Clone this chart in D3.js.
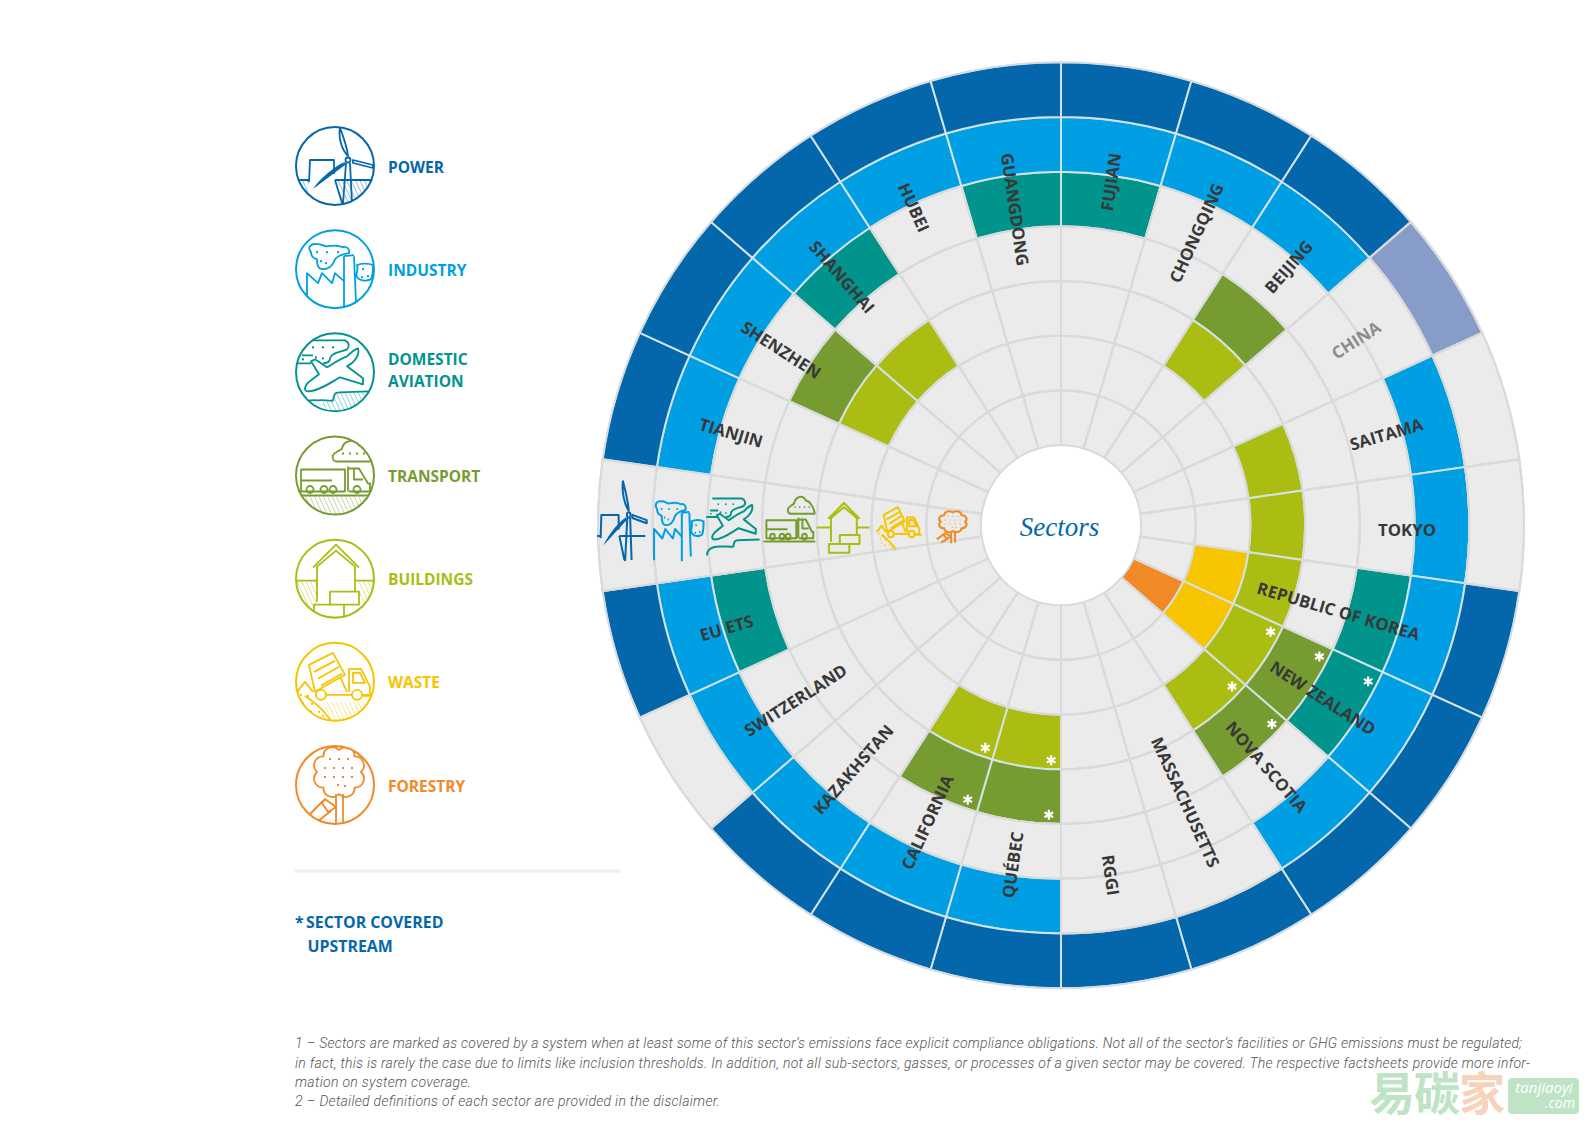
<!DOCTYPE html>
<html><head><meta charset="utf-8">
<script src="https://cdn.jsdelivr.net/npm/d3@7"></script>
<style>html,body{margin:0;background:#fff}svg{display:block}</style>
</head><body><svg id="c" width="1587" height="1123"></svg>
<script>
// ---- data ----
const jurisdictions = ["FUJIAN","CHONGQING","BEIJING","CHINA","SAITAMA","TOKYO","REPUBLIC OF KOREA","NEW ZEALAND","NOVA SCOTIA","MASSACHUSETTS","RGGI","QUÉBEC","CALIFORNIA","KAZAKHSTAN","SWITZERLAND","EU ETS","__icons__","TIANJIN","SHENZHEN","SHANGHAI","HUBEI","GUANGDONG"];
const sectors = ["FORESTRY","WASTE","BUILDINGS","TRANSPORT","DOMESTIC AVIATION","INDUSTRY","POWER"];
const sectorColors = ["#f18a26","#f6c500","#abbd13","#769c31","#00948d","#009fe3","#0567ab"];
const legendLines = [["POWER"],["INDUSTRY"],["DOMESTIC","AVIATION"],["TRANSPORT"],["BUILDINGS"],["WASTE"],["FORESTRY"]];
const powerCovered = ["FUJIAN","CHONGQING","BEIJING","REPUBLIC OF KOREA","NEW ZEALAND","NOVA SCOTIA","MASSACHUSETTS","RGGI","QUÉBEC","CALIFORNIA","KAZAKHSTAN","EU ETS","TIANJIN","SHENZHEN","SHANGHAI","HUBEI","GUANGDONG"];
const powerPlanned = ["CHINA"];
const industryCovered = ["FUJIAN","CHONGQING","BEIJING","SAITAMA","TOKYO","REPUBLIC OF KOREA","NEW ZEALAND","NOVA SCOTIA","QUÉBEC","CALIFORNIA","KAZAKHSTAN","SWITZERLAND","EU ETS","TIANJIN","SHENZHEN","SHANGHAI","HUBEI","GUANGDONG"];
const aviationCovered = ["FUJIAN","REPUBLIC OF KOREA","NEW ZEALAND","EU ETS","SHANGHAI","GUANGDONG"];
const transportCovered = ["BEIJING","NEW ZEALAND","NOVA SCOTIA","QUÉBEC","CALIFORNIA","SHENZHEN"];
const buildingsCovered = ["BEIJING","SAITAMA","TOKYO","REPUBLIC OF KOREA","NEW ZEALAND","NOVA SCOTIA","QUÉBEC","CALIFORNIA","SHENZHEN","SHANGHAI"];
const wasteCovered = ["REPUBLIC OF KOREA","NEW ZEALAND"];
const forestryCovered = ["NEW ZEALAND"];
const upstreamAviation = ["NEW ZEALAND"];
const upstreamTransport = ["NEW ZEALAND","NOVA SCOTIA","QUÉBEC","CALIFORNIA"];
const upstreamBuildings = ["NEW ZEALAND","NOVA SCOTIA","QUÉBEC","CALIFORNIA"];
const footnotes = [
 ["1 – Sectors are marked as covered by a system when at least some of this sector’s emissions face explicit compliance obligations. Not all of the sector’s facilities or GHG emissions must be regulated;",1227],
 ["in fact, this is rarely the case due to limits like inclusion thresholds. In addition, not all sub-sectors, gasses, or processes of a given sector may be covered. The respective factsheets provide more infor-",1235],
 ["mation on system coverage.",176],
 ["2 – Detailed definitions of each sector are provided in the disclaimer.",425]];

const coverage = {POWER:powerCovered,INDUSTRY:industryCovered,"DOMESTIC AVIATION":aviationCovered,TRANSPORT:transportCovered,BUILDINGS:buildingsCovered,WASTE:wasteCovered,FORESTRY:forestryCovered};
const upstream = {"DOMESTIC AVIATION":upstreamAviation,TRANSPORT:upstreamTransport,BUILDINGS:upstreamBuildings};

// ---- icon glyphs (decorative line drawings, circle radius 39) ----
const crownPts=[[26,-13],[19.6,2.6],[4,9],[-11.6,2.6],[-18,-13],[-11.6,-28.6],[4,-35],[19.6,-28.6]];
const crown="M26,-13"+crownPts.slice(1).concat([crownPts[0]]).map(p=>`A9,9 0 0 1 ${p[0]},${p[1]}`).join("")+"Z";
const icons = {
 POWER:{lines:"M-26,16L-25,-6L-1,-6L-1,8M0,14L36,14M11,-3L8,38M15,-3L17,37M0,14L7,37M13,-10C12,-20 8,-30 5,-38C3,-28 7,-16 13,-10ZM18,-6L38,-1L38,2L18,-3Z",
   legendOnly:"M-39,14L-26,14",wedgeOnly:"M-31,14L-26,14",
   solid:"M10,-1L-22,23C-15,12 0,0 10,-4Z",circ:[[13,-6,2.5]],dots:[],
   hatch:"M-39,14H-26L-27,32H-39ZM0,14H36L30,36L8,38Z"},
 INDUSTRY:{lines:"M-24,-17C-28,-22 -24,-26 -18,-25C-14,-26 -11,-22 -7,-23C-2,-24 3,-24 8,-22C12,-23 15,-20 14,-16C8,-15 3,-14 0,-10C-2,-4 -6,0 -12,0C-18,0 -18,-6 -18,-10C-22,-11 -24,-14 -24,-17ZM9,-13L9,38M19,-13L21,33M9,-13L19,-14M-28,37L-28,4L-17,14L-13,4L-3,14L0,4L9,12M22,-4C26,-6 34,-6 38,-4C38,0 38,6 36,10C30,13 24,11 22,8C20,4 24,2 22,-4Z",
   circ:[],dots:[[-18,-17],[-8,-17],[3,-17],[-9,-6],[-14,-8],[28,0],[33,7],[27,8]],hatch:""},
 "DOMESTIC AVIATION":{lines:"M-30,-32L10,-32C14,-30 15,-26 12,-23C6,-20 -4,-20 -5,-14C-5,-10 -8,-9 -12,-9M-38,-9L-24,-9M-33,-17L-22,-17M23,-24C25,-18 20,-10 12,-6L28,6L28,12L5,5C-4,10 -18,20 -28,19C-32,18 -30,12 -24,8L-16,2L-24,-11L-20,-13L-8,-5C0,-10 6,-14 12,-16C16,-20 20,-23 23,-24ZM-37,39C-37,31 -30,27 -17,28C-14,27 -4,29 -2,28C-1,22 0,20 4,20L33,19",
   circ:[],dots:[[-22,-25],[-12,-25],[-2,-25],[-32,-13],[-12,-14],[-19,-15]],hatch:"M-17,31L-2,28L0,20L33,19L20,36L-5,39Z"},
 TRANSPORT:{lines:"M2,-14C-3,-14 -4,-21 1,-23C3,-25 6,-25 7,-27C9,-36 20,-37 24,-30C30,-29 36,-22 37,-14ZM-34,-6H10V16H-34ZM-34,5H-3M13,-9V16M13,-7H24L33,8H35V16H14M19,-6V4H28M-38,20H38",
   circ:[[-25,14,3.5],[-11,14,3.5],[-2,14,3.5],[22,14,3.5]],dots:[[8,-22],[15,-22],[22,-22],[29,-22]],hatch:"M-38,21H38L25,40H-25Z"},
 BUILDINGS:{lines:"M-22,-11L1,-34L24,-11M-18,23V-12L1,-28L20,-12V13M-39,2H-18M20,2H39M-5,13H24V26H-5ZM-21,26H9V39H-21ZM9,26V39",
   circ:[],dots:[],hatch:"M-39,2H-18V25L-25,30L-39,15ZM24,2H39L33,22L24,25Z"},
 WASTE:{lines:"M-26,-17L-2,-29L10,-7L-20,10ZM-21,-10L0,-21M-17,-3L4,-15M-14,4L7,-8M14,10V-13H26L35,5V13H27M18,-9H25L30,1H18ZM-9,13H17M5,-5L12,10M-38,10L-30,0L-22,10M-30,14C-15,25 -10,30 -5,38M27,14H39",
   circ:[[-14,13,5],[22,13,5]],dots:[[-34,13],[-27,14],[-32,21],[-23,22],[-24,30],[-16,30],[-12,34],[-30,27]],hatch:"M-12,20H32L20,38L-4,39Z"},
 FORESTRY:{lines:crown+"M1,9V38M8,9V37M-10,14L1,22L-7,27L-13,18ZM-11,15L-25,29M-4,26L-17,36",
   circ:[],dots:[[-5,-26],[4,-26],[13,-26],[-10,-17],[-1,-17],[8,-17],[17,-17],[-10,-8],[-1,-8],[8,-8],[17,-8],[3,0],[10,1]],hatch:""}
};

// ---- layout ----
const svg=d3.select("#c");
const cx=1061, cy=525.2, R0=80, R1=463;
const FONT="'Open Sans',sans-serif";
const angle=d3.scaleBand().domain(jurisdictions).range([0,2*Math.PI]);
const radius=d3.scaleBand().domain(sectors).range([R0,R1]);
const colorOf=d3.scaleOrdinal().domain(sectors).range(sectorColors);
const defs=svg.append("defs");
sectors.forEach((s,i)=>{
 const p=defs.append("pattern").attr("id","h"+i).attr("patternUnits","userSpaceOnUse").attr("width",4).attr("height",4).attr("patternTransform","rotate(-25)");
 p.append("line").attr("x1",0).attr("y1",0).attr("x2",0).attr("y2",4).attr("stroke",sectorColors[i]).attr("stroke-width",.8);
});
defs.append("clipPath").attr("id","circ").append("circle").attr("r",39);

// ---- wheel ----
const arc=d3.arc();
const wheel=svg.append("g").attr("transform",`translate(${cx},${cy})`);
const cells=sectors.flatMap(s=>jurisdictions.map(j=>({s,j})));
const cellArc=d=>arc({innerRadius:radius(d.s),outerRadius:radius(d.s)+radius.bandwidth(),startAngle:angle(d.j),endAngle:angle(d.j)+angle.bandwidth()});
wheel.selectAll("path.cell").data(cells).join("path").attr("class","cell")
 .attr("d",cellArc)
 .attr("fill",d=>{
   if(coverage[d.s].includes(d.j)) return colorOf(d.s);
   if(d.s==="POWER"&&powerPlanned.includes(d.j)) return "#879cc8";
   return "#ebebeb";})
 .attr("stroke",d=>(coverage[d.s].includes(d.j))?"#d3e2e6":"#dadada").attr("stroke-width",2);
wheel.selectAll("path.edge").data(cells.filter(d=>!coverage[d.s].includes(d.j))).join("path").attr("class","edge")
 .attr("d",cellArc).attr("fill","none").attr("stroke","#dadada").attr("stroke-width",2);
wheel.append("circle").attr("r",R1).attr("fill","none").attr("stroke","#d6dbe0").attr("stroke-width",1.5);
wheel.append("circle").attr("r",R0-1).attr("fill","#fff");

// stars
const stars=Object.keys(upstream).flatMap(s=>upstream[s].map(j=>({s,j})));
const star=d3.symbol().type(d3.symbolAsterisk).size(70);
wheel.selectAll("path.star").data(stars).join("path").attr("class","star").attr("d",star())
 .attr("fill","none").attr("stroke","#fff").attr("stroke-width",2.2)
 .attr("transform",d=>{const a=angle(d.j)+0.042,r=radius(d.s)+radius.bandwidth()-9;
   return `translate(${r*Math.sin(a)},${-r*Math.cos(a)})`;});

// radial labels
wheel.selectAll("text.lab").data(jurisdictions.filter(j=>j!=="__icons__")).join("text").attr("class","lab")
 .text(d=>d).attr("font-family",FONT).attr("font-weight",700).attr("font-size",16.8)
 .attr("fill",d=>d==="CHINA"?"#8c8c8c":"#383838").attr("dy","0.36em")
 .attr("text-anchor",d=>angle(d)<Math.PI?"end":"start")
 .attr("transform",d=>{const th=angle(d)+angle.bandwidth()/2,deg=th*180/Math.PI,R=375+5.6*Math.cos(th)+(deg>180&&deg<270?2.5:0);
   return `translate(0,4.6) rotate(${deg-90}) translate(${R},0)`+(deg>180?" rotate(180)":"");});

wheel.append("text").text("Sectors").attr("text-anchor","middle").attr("x",-1.5).attr("y",11).attr("font-family","'Liberation Serif',serif").attr("font-style","italic").attr("font-size",27).attr("fill","#0567ab");

// icon drawing
function drawIcon(g,s,sw,inLegend){
 const ic=icons[s],c=colorOf(s),idx=sectors.indexOf(s);
 const clip=inLegend?g.append("g").attr("clip-path","url(#circ)"):g;
 if(inLegend&&ic.hatch) clip.append("path").attr("d",ic.hatch).attr("fill",`url(#h${idx})`);
 const extra=inLegend?(ic.legendOnly||""):(ic.wedgeOnly||"");
 clip.append("path").attr("d",ic.lines+extra).attr("fill","none").attr("stroke",c).attr("stroke-width",sw).attr("stroke-linejoin","round").attr("vector-effect","non-scaling-stroke");
 if(ic.solid) clip.append("path").attr("d",ic.solid).attr("fill",c);
 (ic.circ||[]).forEach(k=>clip.append("circle").attr("cx",k[0]).attr("cy",k[1]).attr("r",k[2]).attr("fill","none").attr("stroke",c).attr("stroke-width",sw).attr("vector-effect","non-scaling-stroke"));
 (ic.dots||[]).forEach(k=>clip.append("rect").attr("x",k[0]-1).attr("y",k[1]-1).attr("width",2).attr("height",2).attr("fill",c));
}
// icons inside the gap wedge: [dx, dy, scaleX, scaleY]
const iconFit={POWER:[-6,-4,.72,1.05],INDUSTRY:[-5,0,.75,.95],"DOMESTIC AVIATION":[0,-1,.75,.8],TRANSPORT:[0,0,.68,.82],BUILDINGS:[-1,1,.68,.68],WASTE:[0,.5,.58,.64],FORESTRY:[-3,2,.55,.42]};
sectors.forEach(s=>{
 const r=radius(s)+radius.bandwidth()/2,f=iconFit[s];
 const g=svg.append("g").attr("transform",`translate(${cx-r+f[0]},${cy+f[1]}) scale(${f[2]},${f[3]})`);
 drawIcon(g,s,2,false);
});

// legend
const legendOrder=sectors.slice().reverse();
const legY=d3.scalePoint().domain(legendOrder).range([166,785]);
const LEG=15.5;
legendOrder.forEach((s,i)=>{
 const g=svg.append("g").attr("transform",`translate(335,${legY(s)})`);
 g.append("circle").attr("r",39).attr("fill","#fff").attr("stroke",colorOf(s)).attr("stroke-width",2);
 drawIcon(g,s,1.8,true);
 const ls=legendLines[i];
 ls.forEach((t,n)=>{
  svg.append("text").text(t).attr("x",388).attr("y",legY(s)+(ls.length>1?-2:1)+(n-(ls.length-1)/2)*21.5).attr("dy","0.36em")
   .attr("font-family",FONT).attr("font-weight",700).attr("font-size",LEG).attr("fill",colorOf(s));
 });
});
svg.append("line").attr("x1",295).attr("x2",620).attr("y1",871).attr("y2",871).attr("stroke","#efefef").attr("stroke-width",3.5);
const noteC="#0567ab";
[["*",295,922],["SECTOR COVERED",306,922],["UPSTREAM",307.5,946]].forEach(d=>svg.append("text").text(d[0]).attr("x",d[1]).attr("y",d[2]).attr("dy","0.36em").attr("font-family",FONT).attr("font-weight",700).attr("font-size",15.9).attr("fill",noteC));

// footnotes
const footY=[1043,1062.5,1082,1101];
footnotes.forEach((f,i)=>svg.append("text").text(f[0]).attr("x",295).attr("y",footY[i]+5).attr("textLength",f[1]).attr("lengthAdjust","spacing")
 .attr("font-family","Roboto,sans-serif").attr("font-weight",300).attr("font-style","italic").attr("font-size",14).attr("fill","#555"));

// watermark
const wm=svg.append("g");
[["易",1369,"#bfe3c5"],["碳",1414,"#bfe3c5"],["家",1459,"#f8d3ba"]].forEach(d=>wm.append("text").text(d[0]).attr("x",d[1]).attr("y",1110).attr("font-family","'Noto Sans CJK SC'").attr("font-weight",700).attr("font-size",46).attr("fill",d[2]));
wm.append("rect").attr("x",1508).attr("y",1078).attr("width",71).attr("height",36).attr("rx",4).attr("fill","#bfe3c5");
[["tanjiaoyi",1544,1093,15],[".com",1560,1108,14]].forEach(d=>wm.append("text").text(d[0]).attr("x",d[1]).attr("y",d[2]).attr("text-anchor","middle").attr("font-family","'Open Sans'").attr("font-style","italic").attr("font-size",d[3]).attr("fill","#fff"));
</script></body></html>
